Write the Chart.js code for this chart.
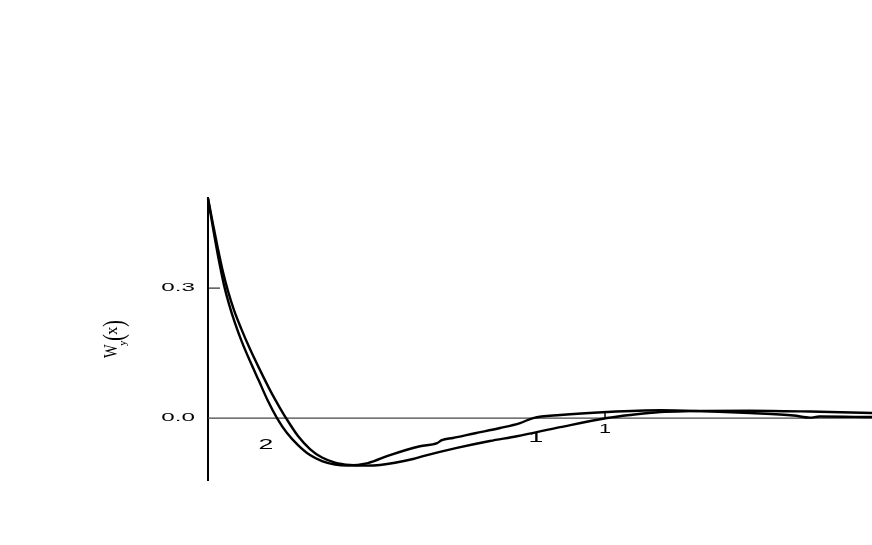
<!DOCTYPE html>
<html>
<head>
<meta charset="utf-8">
<script src="https://cdn.jsdelivr.net/npm/chart.js@4.4.1/dist/chart.umd.min.js"></script>
<style>
  html, body { margin: 0; padding: 0; background: #fff; }
  canvas { display: block; }
</style>
</head>
<body>
<canvas id="chart" width="872" height="545"></canvas>
<script>
// curve 2 (decays and turns first)
const curve2X = [0, 0.0101, 0.0202, 0.0302, 0.0403, 0.0529, 0.068, 0.0856, 0.1058, 0.1285, 0.1511, 0.1738, 0.199, 0.2267, 0.2569, 0.2872, 0.3199, 0.3526, 0.403, 0.4584, 0.534, 0.577, 0.589, 0.617, 0.673, 0.7355, 0.786, 0.819, 0.887, 1.005, 1.139, 1.24, 1.365, 1.475, 1.516, 1.54, 1.6725];
const curve2Y = [0.507, 0.4523, 0.3993, 0.3508, 0.3069, 0.2631, 0.2192, 0.1754, 0.1315, 0.0854, 0.0392, 0, -0.0346, -0.0623, -0.0854, -0.0992, -0.1073, -0.1096, -0.1039, -0.0854, -0.065, -0.058, -0.051, -0.046, -0.035, -0.023, -0.0115, 0, 0.007, 0.014, 0.018, 0.016, 0.0115, 0.006, 0.001, 0.0035, 0.0023];

// curve 1
const curve1X = [0, 0.0126, 0.0252, 0.0378, 0.0504, 0.0655, 0.0831, 0.1058, 0.131, 0.1562, 0.1814, 0.1965, 0.2267, 0.2569, 0.2872, 0.3199, 0.3577, 0.3955, 0.4332, 0.5164, 0.542, 0.627, 0.71, 0.778, 0.887, 1.005, 1.063, 1.139, 1.214, 1.365, 1.516, 1.6725];
const curve1Y = [0.507, 0.4477, 0.39, 0.3369, 0.2931, 0.2492, 0.2077, 0.1592, 0.1108, 0.0646, 0.0231, 0, -0.0415, -0.0715, -0.0912, -0.1027, -0.1085, -0.1099, -0.1085, -0.0946, -0.088, -0.069, -0.053, -0.042, -0.021, 0, 0.007, 0.014, 0.016, 0.017, 0.015, 0.0115];

const yTicks = [0, 0.3];
const yTickLabels = ["0.0", "0.3"];
const xTicks = [1];
const xTickLabels = ["1"];
const curveLabels = ["2", "1"];
const curveLabelAt = [[0.146, -0.063], [0.826, -0.046]];

function toPoints(xs, ys) {
  return xs.map((x, i) => ({ x: x, y: ys[i] }));
}

// draw text stretched horizontally around (x, y)
function wideText(ctx, text, x, y, size, sx, align) {
  ctx.save();
  ctx.font = size + "px 'Liberation Sans', Arial, sans-serif";
  ctx.textBaseline = "middle";
  ctx.textAlign = align || "center";
  ctx.translate(x, y);
  ctx.scale(sx, 1);
  ctx.fillText(text, 0, 0);
  ctx.restore();
}

const axesPlugin = {
  id: "axesPlugin",
  beforeDatasetsDraw(chart) {
    const ctx = chart.ctx;
    const xs = chart.scales.x;
    const ys = chart.scales.y;
    const area = chart.chartArea;
    const y0 = ys.getPixelForValue(0);
    ctx.save();
    // zero line
    ctx.strokeStyle = "#444";
    ctx.lineWidth = 1.3;
    ctx.beginPath();
    ctx.moveTo(area.left, y0);
    ctx.lineTo(area.right, y0);
    ctx.stroke();
    // y ticks point into the plot
    ctx.strokeStyle = "#000";
    ctx.lineWidth = 1;
    ctx.fillStyle = "#000";
    yTicks.forEach((v, i) => {
      const py = ys.getPixelForValue(v);
      if (v !== 0) {
        ctx.beginPath();
        ctx.moveTo(area.left, py);
        ctx.lineTo(area.left + 12, py);
        ctx.stroke();
      }
      wideText(ctx, yTickLabels[i], area.left - 13, py, 11, 2.2, "right");
    });
    // x ticks sit on the zero line
    xTicks.forEach((v, i) => {
      const px = xs.getPixelForValue(v);
      ctx.lineWidth = 1.5;
      ctx.beginPath();
      ctx.moveTo(px, y0);
      ctx.lineTo(px, y0 - 7);
      ctx.stroke();
      wideText(ctx, xTickLabels[i], px, y0 + 12, 12, 1.8, "center");
    });
    ctx.restore();
  },
  afterDraw(chart) {
    const ctx = chart.ctx;
    const xs = chart.scales.x;
    const ys = chart.scales.y;
    ctx.save();
    ctx.fillStyle = "#000";
    curveLabels.forEach((t, i) => {
      const px = xs.getPixelForValue(curveLabelAt[i][0]);
      const py = ys.getPixelForValue(curveLabelAt[i][1]);
      wideText(ctx, t, px, py, 14, 1.9, "center");
    });
    // y axis title W_y(x), rotated
    const serif = "'Liberation Serif', 'Times New Roman', serif";
    ctx.translate(117, 358);
    ctx.rotate(-Math.PI / 2);
    ctx.textBaseline = "alphabetic";
    ctx.textAlign = "left";
    ctx.save();
    ctx.scale(0.8, 1);
    ctx.font = "18px " + serif;
    ctx.fillText("W", 0, 0);
    ctx.restore();
    ctx.font = "11px " + serif;
    ctx.fillText("y", 12, 9);
    ctx.save();
    ctx.translate(17, 6);
    ctx.scale(0.7, 1);
    ctx.font = "30px " + serif;
    ctx.fillText("(", 0, 0);
    ctx.restore();
    ctx.font = "17px " + serif;
    ctx.fillText("x", 23, 0);
    ctx.save();
    ctx.translate(31, 6);
    ctx.scale(0.7, 1);
    ctx.font = "30px " + serif;
    ctx.fillText(")", 0, 0);
    ctx.restore();
    ctx.restore();
  }
};

const lineStyle = {
  borderColor: "#000",
  borderWidth: 2.4,
  pointRadius: 0,
  fill: false,
  cubicInterpolationMode: "monotone",
  clip: false
};

new Chart(document.getElementById("chart").getContext("2d"), {
  type: "line",
  data: {
    datasets: [
      Object.assign({ label: "2", data: toPoints(curve2X, curve2Y) }, lineStyle),
      Object.assign({ label: "1", data: toPoints(curve1X, curve1Y) }, lineStyle)
    ]
  },
  options: {
    responsive: false,
    devicePixelRatio: 1,
    animation: false,
    layout: { padding: { top: 198, bottom: 65, left: 0, right: 0 } },
    plugins: { legend: { display: false }, tooltip: { enabled: false } },
    scales: {
      x: { type: "linear", min: 0, max: 1.6725, display: false },
      y: {
        type: "linear",
        min: -0.143,
        max: 0.508,
        ticks: { display: false },
        grid: { display: false },
        border: { display: true, color: "#000", width: 2 },
        afterFit(scale) { scale.width = 208; }
      }
    }
  },
  plugins: [axesPlugin]
});
</script>
</body>
</html>
